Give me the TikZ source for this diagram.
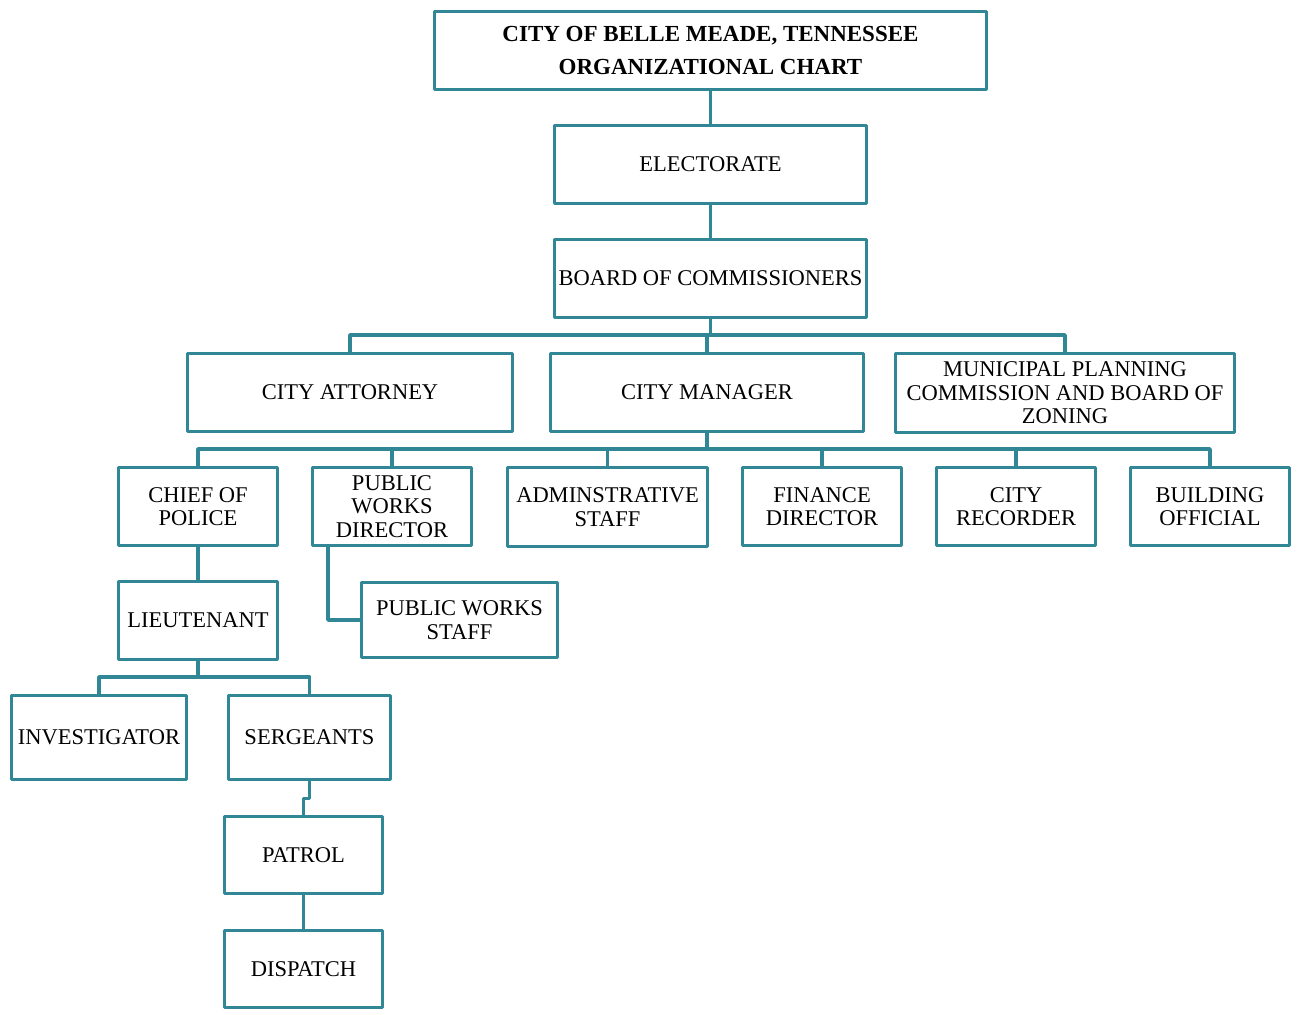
\documentclass[tikz,border=0pt]{standalone}
\usepackage{fontspec}
\setmainfont{Liberation Serif}
\definecolor{teal1}{RGB}{49,135,150}
\begin{document}
\begin{tikzpicture}[x=1pt,y=-1pt,
  box/.style={draw=teal1, line width=3.5pt, line join=round, fill=white, inner sep=0pt, align=center,
    font=\fontsize{22.5}{23.5}\selectfont},
  conn/.style={draw=teal1, line width=3.5pt, line join=round}]
\useasboundingbox (0,0) rectangle (1299,1015);
% nodes
\node[box, minimum width=552pt, minimum height=78pt, font=\fontsize{23}{33}\selectfont\bfseries] (title) at (710.5,50.5) {CITY OF BELLE MEADE, TENNESSEE\\ORGANIZATIONAL CHART};
\node[box, minimum width=312pt, minimum height=78pt] (elect) at (710.5,164.5) {ELECTORATE};
\node[box, minimum width=312pt, minimum height=78pt] (board) at (710.5,278.5) {BOARD OF COMMISSIONERS};
\node[box, minimum width=325pt, minimum height=78pt] (att) at (350,392.5) {CITY ATTORNEY};
\node[box, minimum width=313pt, minimum height=78pt] (mgr) at (707,392.5) {CITY MANAGER};
\node[box, minimum width=339pt, minimum height=79pt] (mpc) at (1065,393) {MUNICIPAL PLANNING\\COMMISSION AND BOARD OF\\ZONING};
\node[box, minimum width=159pt, minimum height=78pt] (chief) at (198,506.5) {CHIEF OF\\POLICE};
\node[box, minimum width=159pt, minimum height=78pt] (pwd) at (392,506.5) {PUBLIC\\WORKS\\DIRECTOR};
\node[box, minimum width=200pt, minimum height=79pt] (adm) at (607.5,507) {ADMINSTRATIVE\\STAFF};
\node[box, minimum width=159pt, minimum height=78pt] (fin) at (822,506.5) {FINANCE\\DIRECTOR};
\node[box, minimum width=159pt, minimum height=78pt] (rec) at (1016,506.5) {CITY\\RECORDER};
\node[box, minimum width=159pt, minimum height=78pt] (bldg) at (1210,506.5) {BUILDING\\OFFICIAL};
\node[box, minimum width=159pt, minimum height=78pt] (lt) at (198,620.5) {LIEUTENANT};
\node[box, minimum width=196pt, minimum height=75pt] (pws) at (459.5,620) {PUBLIC WORKS\\STAFF};
\node[box, minimum width=175pt, minimum height=84pt] (inv) at (99,737.5) {INVESTIGATOR};
\node[box, minimum width=162pt, minimum height=84pt] (serg) at (309.5,737.5) {SERGEANTS};
\node[box, minimum width=158pt, minimum height=77pt] (pat) at (303.5,855) {PATROL};
\node[box, minimum width=158pt, minimum height=77pt] (disp) at (303.5,969) {DISPATCH};
% bus coordinates
\coordinate (bus1) at (0,335);
\coordinate (bus2) at (0,449);
\coordinate (bus3) at (0,677);
% connectors
\draw[conn] (title.south) -- (elect.north);
\draw[conn] (elect.south) -- (board.north);
\draw[conn] (board.south) -- (board.south |- bus1);
\draw[conn] (att.north) -- (att.north |- bus1) -- (mpc.north |- bus1) -- (mpc.north);
\draw[conn] (mgr.north) -- (mgr.north |- bus1);
\draw[conn] (mgr.south) -- (mgr.south |- bus2);
\draw[conn] (chief.north) -- (chief.north |- bus2) -- (bldg.north |- bus2) -- (bldg.north);
\draw[conn] (pwd.north) -- (pwd.north |- bus2);
\draw[conn] (adm.north) -- (adm.north |- bus2);
\draw[conn] (fin.north) -- (fin.north |- bus2);
\draw[conn] (rec.north) -- (rec.north |- bus2);
\draw[conn] (chief.south) -- (lt.north);
\draw[conn] ([xshift=-64pt]pwd.south) |- (pws.west);
\draw[conn] (lt.south) -- (lt.south |- bus3);
\draw[conn] (inv.north) -- (inv.north |- bus3) -- (serg.north |- bus3) -- (serg.north);
\draw[conn] (serg.south) -- ++(0,17) -| (pat.north);
\draw[conn] (pat.south) -- (disp.north);
\end{tikzpicture}
\end{document}
